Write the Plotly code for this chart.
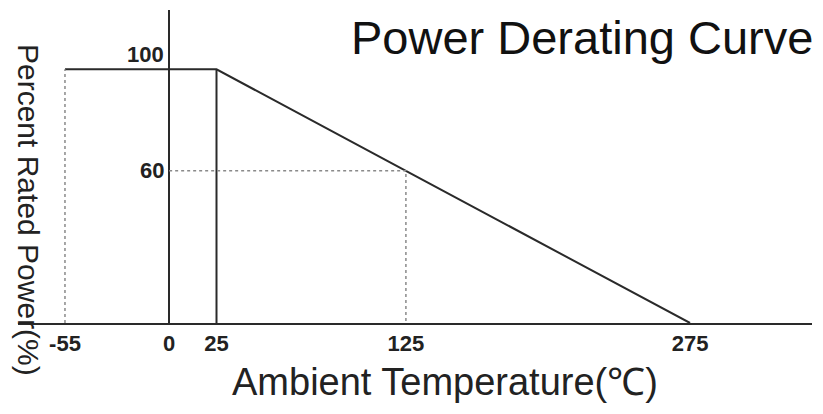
import plotly.graph_objects as go

# ---- data ----
curve_temp = [-55, 25, 125, 275]          # ambient temperature (°C)
curve_power = [100, 100, 60, 0]           # percent rated power
x_tick_vals = [-55, 0, 25, 125, 275]
x_tick_text = ["-55", "0", "25", "125", "275"]
y_tick_vals = [60, 100]
y_tick_text = ["60", "100"]

title_text = "Power Derating Curve"
x_title = "Ambient Temperature(℃)"
y_title = "Percent Rated Power(%)"

FONT = "Arial, 'Liberation Sans', sans-serif"
INK = "#2a2a2a"
DOT = "#8a8a8a"

fig = go.Figure()

# main derating curve
fig.add_trace(go.Scatter(x=curve_temp, y=curve_power, mode="lines",
                         line=dict(color=INK, width=2), hoverinfo="skip"))

# solid vertical at the rated temperature (25 °C)
t_rated = curve_temp[1]
fig.add_trace(go.Scatter(x=[t_rated, t_rated], y=[0, curve_power[1]], mode="lines",
                         line=dict(color=INK, width=2), hoverinfo="skip"))

# dotted vertical at the minimum temperature
t_min = curve_temp[0]
fig.add_trace(go.Scatter(x=[t_min, t_min], y=[0, curve_power[0]], mode="lines",
                         line=dict(color=DOT, width=1.5, dash="dot"), hoverinfo="skip"))

# dotted guide to the 125 °C / 60 % point
t_mid, p_mid = curve_temp[2], curve_power[2]
fig.add_trace(go.Scatter(x=[0, t_mid, t_mid], y=[p_mid, p_mid, 0], mode="lines",
                         line=dict(color=DOT, width=1.5, dash="dot"), hoverinfo="skip"))

# y tick labels placed left of the y axis (x = 0)
for v, t in zip(y_tick_vals, y_tick_text):
    fig.add_annotation(x=0, y=v, xref="x", yref="y", text=t, showarrow=False,
                       xanchor="right", xshift=-3,
                       yanchor="bottom" if v == max(y_tick_vals) else "middle",
                       font=dict(family=FONT, size=22, color="#222222", weight="bold"))

# axis titles (paper coords are relative to the plot area)
fig.add_annotation(x=0.5378, y=-0.1885, xref="paper", yref="paper",
                   xanchor="center", yanchor="middle", showarrow=False,
                   text=x_title, font=dict(family=FONT, size=38, color="#222222"))
fig.add_annotation(x=0.0139, y=0.361, xref="paper", yref="paper",
                   xanchor="center", yanchor="middle", showarrow=False, textangle=90,
                   text=y_title, font=dict(family=FONT, size=30, color="#222222"))

# chart title drawn inside the figure, right-aligned above the plot
fig.add_annotation(x=1.0038, y=1.004, xref="paper", yref="paper",
                   xanchor="right", yanchor="top", showarrow=False,
                   text=title_text, font=dict(family=FONT, size=47, color="#111111"))

fig.update_layout(
    width=823, height=414,
    paper_bgcolor="white", plot_bgcolor="white",
    margin=dict(l=10, r=19, t=2, b=99),
    showlegend=False,
    xaxis=dict(range=[-79.8, 339.4], showgrid=False, zeroline=True,
               zerolinecolor=INK, zerolinewidth=2,
               showline=True, linecolor=INK, linewidth=2,
               tickvals=x_tick_vals, ticktext=x_tick_text, ticks="",
               tickfont=dict(family=FONT, size=22, color="#222222", weight="bold")),
    yaxis=dict(range=[0, 123.4], showgrid=False, zeroline=False,
               showline=False, showticklabels=False, ticks=""),
)

fig.write_html("out.html")
